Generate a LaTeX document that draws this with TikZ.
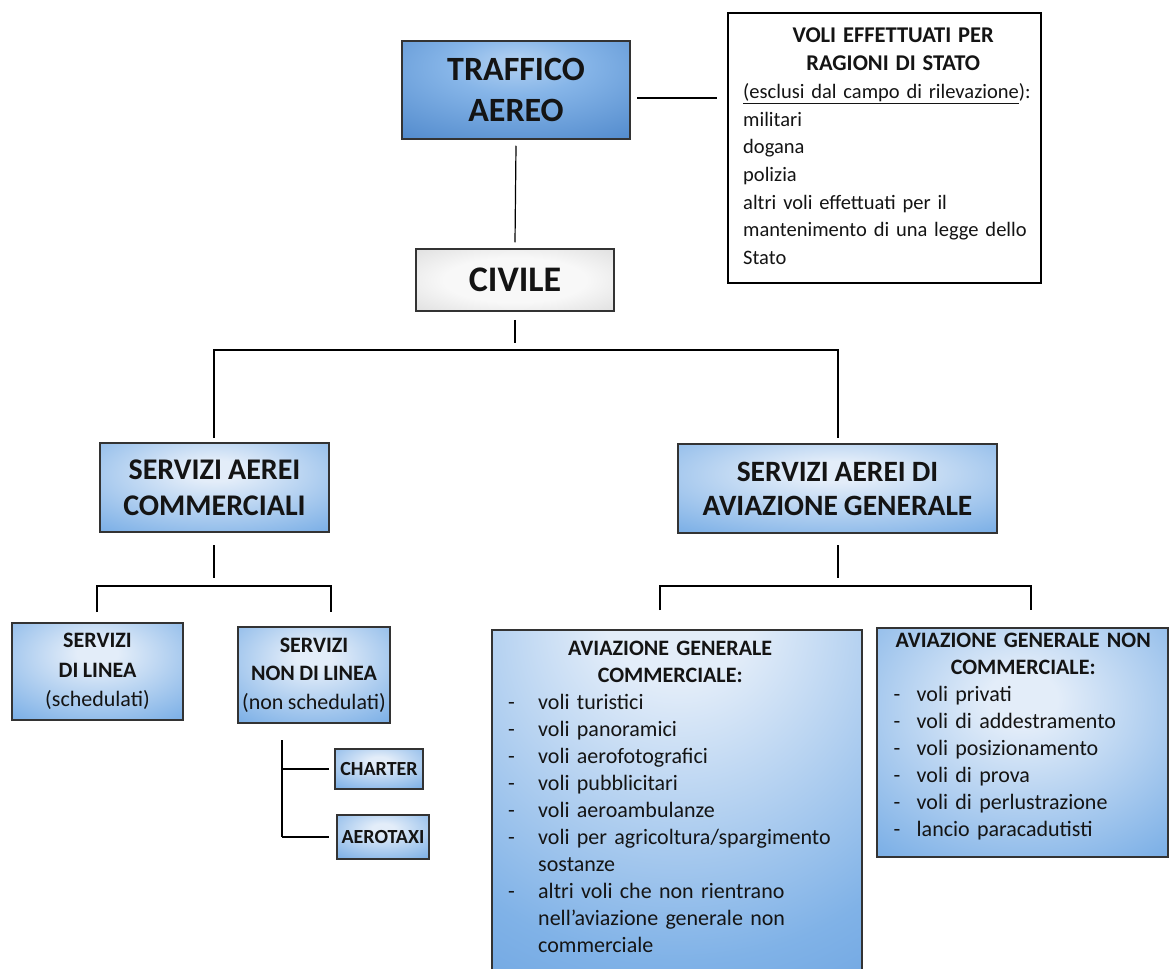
\documentclass[tikz,border=0pt]{standalone}
\usepackage{fontspec}
\setmainfont{Carlito}[WordSpace=0.9]
\definecolor{bA}{HTML}{E3EDF9}
\definecolor{bB}{HTML}{80B2E7}
\definecolor{bC}{HTML}{4C8CD7}
\definecolor{bD}{HTML}{3676C5}
\definecolor{tA}{HTML}{B4D2F2}
\definecolor{tB}{HTML}{86B5E8}
\definecolor{tC}{HTML}{3A77C0}
\definecolor{tD}{HTML}{275FA3}
\definecolor{gA}{HTML}{F8F8F8}
\definecolor{gB}{HTML}{CFCFCF}
\definecolor{gC}{HTML}{7A7A7A}
\definecolor{edgecol}{HTML}{333333}
\definecolor{ink}{HTML}{141414}
\pgfdeclareradialshading{blueshade}{\pgfpoint{0bp}{10bp}}{color(0bp)=(bA); color(6bp)=(bA); color(38bp)=(bB); color(62bp)=(bC); color(110bp)=(bD)}
\pgfdeclareradialshading{tallshade}{\pgfpoint{0bp}{30bp}}{color(0bp)=(bA); color(10bp)=(bA); color(42bp)=(bB); color(75bp)=(bC); color(130bp)=(bD)}
\pgfdeclareradialshading{trafshade}{\pgfpoint{0bp}{15bp}}{color(0bp)=(tA); color(15bp)=(tB); color(55bp)=(tC); color(100bp)=(tD)}
\pgfdeclareradialshading{grayshade}{\pgfpoint{0bp}{0bp}}{color(0bp)=(gA); color(18bp)=(gA); color(48bp)=(gB); color(90bp)=(gC)}
\newcommand{\dashitem}[3]{\hspace*{#1}\makebox[#2][l]{-}#3}
\tikzset{
  box/.style={draw=edgecol, line width=1.5pt, inner sep=0pt, align=center, text=ink},
  bluebox/.style={box, shade, shading=blueshade},
  tallbox/.style={box, shade, shading=tallshade},
  trafbox/.style={box, shade, shading=trafshade},
  graybox/.style={box, shade, shading=grayshade},
  plainbox/.style={draw=black, line width=1.3pt, fill=white, inner sep=0pt},
  listtext/.style={inner sep=0pt, align=left, text=ink, font=\fontsize{22}{27}\selectfont},
  conn/.style={draw=black, line width=1.2pt},
}
\begin{document}
\begin{tikzpicture}[x=1pt, y=-1pt]
\useasboundingbox (0,0) rectangle (1170,969);
\fill[white] (0,0) rectangle (1170,969);

% top
\node[trafbox, minimum width=228pt, minimum height=98pt,
      font=\fontsize{34}{41}\selectfont\bfseries] (traf) at (516,90) {TRAFFICO\\AEREO};
\node[plainbox, minimum width=313pt, minimum height=270pt] (voli) at (884.5,148) {};
\node[listtext, text width=300pt, anchor=north west,
      font=\fontsize{20.5}{27.7}\selectfont] (volit) at (743,28) {%
  {\centering\fontsize{22.5}{27.7}\selectfont\bfseries VOLI EFFETTUATI PER\\RAGIONI DI STATO\par}
  \underline{(esclusi dal campo di rilevazione}):\\
  militari\\
  dogana\\
  polizia\\
  altri voli effettuati per il\\
  mantenimento di una legge dello\\
  Stato};
\node[graybox, minimum width=198pt, minimum height=62pt,
      font=\fontsize{36}{42}\selectfont\bfseries] (civile) at (515,280) {CIVILE};

% second level
\node[bluebox, minimum width=229pt, minimum height=89pt,
      font=\fontsize{30}{36}\selectfont\bfseries] (comm) at (214.5,487.5) {SERVIZI AEREI\\COMMERCIALI};
\node[bluebox, minimum width=319pt, minimum height=89pt,
      font=\fontsize{29.5}{34}\selectfont\bfseries] (avgen) at (837.5,488.5) {SERVIZI AEREI DI\\AVIAZIONE GENERALE};

% third level left
\node[bluebox, minimum width=171pt, minimum height=97pt,
      font=\fontsize{22}{29.5}\selectfont] (linea) at (97.5,671.5)
      {\textbf{SERVIZI}\\\textbf{DI LINEA}\\(schedulati)};
\node[bluebox, minimum width=152pt, minimum height=96pt,
      font=\fontsize{22}{28.5}\selectfont] (nonlinea) at (314,675)
      {\textbf{SERVIZI}\\\textbf{NON DI LINEA}\\(non schedulati)};
\node[bluebox, minimum width=88pt, minimum height=40pt,
      font=\fontsize{20}{24}\selectfont\bfseries] (charter) at (379,769) {CHARTER};
\node[bluebox, minimum width=92pt, minimum height=44pt,
      font=\fontsize{20}{24}\selectfont\bfseries] (aerotaxi) at (383,837) {AEROTAXI};

% third level right
\node[tallbox, minimum width=370pt, minimum height=355pt] (agc) at (677,807.5) {};
\node[listtext, text width=330pt, anchor=north west] (agct) at (505,641) {%
  {\centering\bfseries AVIAZIONE GENERALE\\COMMERCIALE:\par}
  \dashitem{3pt}{30pt}{voli turistici}\\
  \dashitem{3pt}{30pt}{voli panoramici}\\
  \dashitem{3pt}{30pt}{voli aerofotografici}\\
  \dashitem{3pt}{30pt}{voli pubblicitari}\\
  \dashitem{3pt}{30pt}{voli aeroambulanze}\\
  \dashitem{3pt}{30pt}{voli per agricoltura/spargimento}\\
  \hspace*{33pt}sostanze\\
  \dashitem{3pt}{30pt}{altri voli che non rientrano}\\
  \hspace*{33pt}nell’aviazione generale non\\
  \hspace*{33pt}commerciale};
\node[bluebox, minimum width=291pt, minimum height=229pt] (agnc) at (1022.5,742.5) {};
\node[listtext, text width=285pt, anchor=north west] (agnct) at (880.5,633) {%
  {\centering\bfseries AVIAZIONE GENERALE NON\\COMMERCIALE:\par}
  \dashitem{13pt}{23pt}{voli privati}\\
  \dashitem{13pt}{23pt}{voli di addestramento}\\
  \dashitem{13pt}{23pt}{voli posizionamento}\\
  \dashitem{13pt}{23pt}{voli di prova}\\
  \dashitem{13pt}{23pt}{voli di perlustrazione}\\
  \dashitem{13pt}{23pt}{lancio paracadutisti}};

% connectors
\coordinate (vl1) at (637,98);
\coordinate (vl2) at (717,98);
\draw[conn] (vl1) -- (vl2);
\draw[conn] ([yshift=-6pt]traf.south) -- ([yshift=6pt]civile.north);
\coordinate (cv1) at (515,343);
\coordinate (barL) at (214,350);
\coordinate (barR) at (838,350);
\coordinate (barLd) at (214,438);
\coordinate (barRd) at (838,438);
\draw[conn] ([yshift=-8pt]civile.south) -- (cv1);
\draw[conn] (barLd) -- (barL) -- (barR) -- (barRd);

\coordinate (cm1) at (214,545);
\coordinate (cm2) at (214,578);
\draw[conn] (cm1) -- (cm2);
\coordinate (lb1) at (97,612);
\coordinate (lb2) at (97,586);
\coordinate (lb3) at (331,586);
\coordinate (lb4) at (331,612);
\draw[conn] (lb1) -- (lb2) -- (lb3) -- (lb4);

\coordinate (ag1) at (838,545);
\coordinate (ag2) at (838,578);
\draw[conn] (ag1) -- (ag2);
\coordinate (rb1) at (660,610);
\coordinate (rb2) at (660,586);
\coordinate (rb3) at (1031,586);
\coordinate (rb4) at (1031,610);
\draw[conn] (rb1) -- (rb2) -- (rb3) -- (rb4);

\coordinate (nl1) at (282,740);
\coordinate (nl2) at (282,837);
\draw[conn] (nl1) -- (nl2);
\draw[conn] (nl1 |- charter.west) -- ([xshift=-5pt]charter.west);
\draw[conn] (nl2) -- ([xshift=-7pt]aerotaxi.west);
\end{tikzpicture}
\end{document}
